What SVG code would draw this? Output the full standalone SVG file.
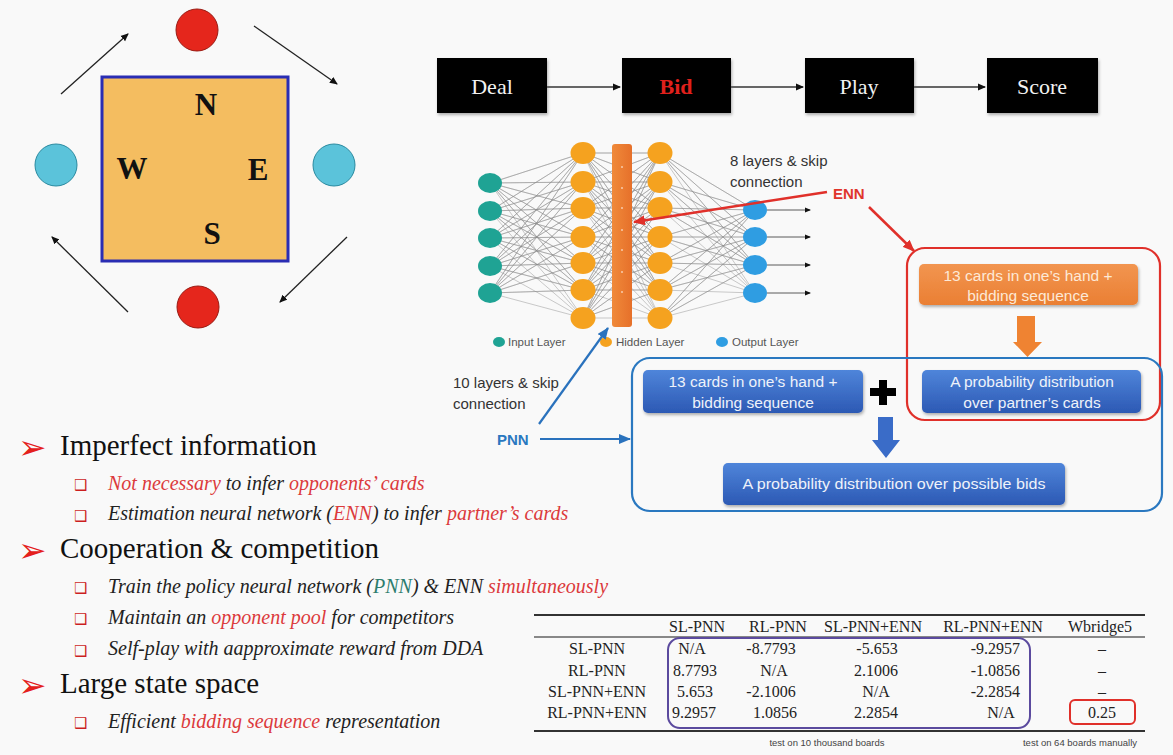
<svg xmlns="http://www.w3.org/2000/svg" width="1173" height="755" viewBox="0 0 1173 755">
<style>
.serif{font-family:"Liberation Serif","Times New Roman",serif}
.sans{font-family:"Liberation Sans",Arial,sans-serif}
.letter{font-family:"Liberation Serif",serif;font-weight:bold;font-size:31px;fill:#111;text-anchor:middle}
.flow{fill:#050505}
.flowtxt{font-family:"Liberation Serif",serif;font-size:22px;fill:#f2f2f2;text-anchor:middle}
.mesh{fill:none;stroke:#8a8a8a;stroke-width:0.6;opacity:0.75}
.inp{fill:#1fa394}
.hid{fill:#f5a21f}
.out{fill:#2f9de2}
.leg{font-family:"Liberation Sans",Arial,sans-serif;font-size:11.5px;fill:#555}
.note{font-family:"Liberation Sans",Arial,sans-serif;font-size:15px;fill:#333}
.btxt{font-family:"Liberation Sans",Arial,sans-serif;font-size:15.5px;fill:#eef2fa;text-anchor:middle}
.otxt{font-family:"Liberation Sans",Arial,sans-serif;font-size:15.5px;fill:#fde9d6;text-anchor:middle}
.h1{font-family:"Liberation Serif","Times New Roman",serif;font-size:29px;fill:#111}
.h2{font-family:"Liberation Serif","Times New Roman",serif;font-style:italic;font-size:20px;fill:#222}
.red{fill:#dc3a3c}
.arr{font-family:"DejaVu Sans",sans-serif;font-size:34px;fill:#e4201c}
.sq{font-family:"DejaVu Sans",sans-serif;font-size:15px;fill:#cc1f1f}
.tb{font-family:"Liberation Serif",serif;font-size:16px;fill:#222;text-anchor:middle}
.tbe{font-family:"Liberation Serif",serif;font-size:16px;fill:#222;text-anchor:end}
.fn{font-family:"Liberation Sans",Arial,sans-serif;font-size:9.5px;fill:#444;text-anchor:middle}
</style>
<defs>
<marker id="ak" markerWidth="8" markerHeight="8" refX="7" refY="4" orient="auto" markerUnits="userSpaceOnUse"><path d="M0,0.5 L8,4 L0,7.5 Z" fill="#111"/></marker>
<marker id="ar" markerWidth="12" markerHeight="10" refX="11" refY="5" orient="auto" markerUnits="userSpaceOnUse"><path d="M0,0 L12,5 L0,10 Z" fill="#e0302a"/></marker>
<marker id="ab" markerWidth="12" markerHeight="10" refX="11" refY="5" orient="auto" markerUnits="userSpaceOnUse"><path d="M0,0 L12,5 L0,10 Z" fill="#2a72bd"/></marker>
<marker id="as" markerWidth="6" markerHeight="6" refX="5" refY="3" orient="auto" markerUnits="userSpaceOnUse"><path d="M0,0.5 L6,3 L0,5.5 Z" fill="#111"/></marker>
<linearGradient id="gb" x1="0" y1="0" x2="0" y2="1"><stop offset="0" stop-color="#4f85da"/><stop offset="1" stop-color="#2c59b4"/></linearGradient>
<linearGradient id="go" x1="0" y1="0" x2="0" y2="1"><stop offset="0" stop-color="#f29550"/><stop offset="1" stop-color="#ea7f33"/></linearGradient>
<linearGradient id="gbar" x1="0" y1="0" x2="1" y2="0"><stop offset="0" stop-color="#f08a3a"/><stop offset="1" stop-color="#e6702a"/></linearGradient>
<filter id="sh" x="-10%" y="-20%" width="120%" height="150%"><feDropShadow dx="1" dy="2" stdDeviation="1.5" flood-color="#000" flood-opacity="0.3"/></filter>
</defs>
<rect x="0" y="0" width="1173" height="755" fill="#f9f9f9"/>

<!-- compass -->
<g id="table-square">
<rect x="102" y="77" width="186" height="184" fill="#f4bd60" stroke="#2a2db3" stroke-width="3"/>
<text class="letter" x="206" y="115">N</text>
<text class="letter" x="132" y="179">W</text>
<text class="letter" x="258" y="180">E</text>
<text class="letter" x="212" y="244">S</text>
</g>
<g id="player-north"><circle cx="197" cy="30" r="21" fill="#e5261c" stroke="#9a1a12" stroke-width="1"/></g>
<g id="player-south"><circle cx="198" cy="307" r="21" fill="#e5261c" stroke="#9a1a12" stroke-width="1"/></g>
<g id="player-west"><circle cx="56" cy="165" r="21" fill="#5bc3da" stroke="#2a8aa0" stroke-width="1"/></g>
<g id="player-east"><circle cx="334" cy="165" r="21" fill="#5bc3da" stroke="#2a8aa0" stroke-width="1"/></g>

<!-- flow -->
<g id="flow-deal"><rect class="flow" x="437" y="58" width="110" height="55" filter="url(#sh)"/><text class="flowtxt" x="492" y="94">Deal</text></g>
<g id="flow-bid"><rect class="flow" x="622" y="58" width="109" height="55" filter="url(#sh)"/><text class="flowtxt" x="676" y="94" style="fill:#e0201c;font-weight:bold">Bid</text></g>
<g id="flow-play"><rect class="flow" x="805" y="58" width="109" height="55" filter="url(#sh)"/><text class="flowtxt" x="859" y="94">Play</text></g>
<g id="flow-score"><rect class="flow" x="987" y="58" width="111" height="55" filter="url(#sh)"/><text class="flowtxt" x="1042" y="94">Score</text></g>

<!-- network -->
<g id="network">
<path class="mesh" d="M490 183L583 153 490 183 583 182 490 183 583 208 490 183 583 237 490 183 583 263 490 183 583 290 490 183 583 318
M490 211L583 153 490 211 583 182 490 211 583 208 490 211 583 237 490 211 583 263 490 211 583 290 490 211 583 318
M490 238L583 153 490 238 583 182 490 238 583 208 490 238 583 237 490 238 583 263 490 238 583 290 490 238 583 318
M490 266L583 153 490 266 583 182 490 266 583 208 490 266 583 237 490 266 583 263 490 266 583 290 490 266 583 318
M490 293L583 153 490 293 583 182 490 293 583 208 490 293 583 237 490 293 583 263 490 293 583 290 490 293 583 318"/>
<path class="mesh" d="M583 153L660 153 583 153 660 182 583 153 660 208 583 153 660 237 583 153 660 263 583 153 660 290 583 153 660 318
M583 182L660 153 583 182 660 182 583 182 660 208 583 182 660 237 583 182 660 263 583 182 660 290 583 182 660 318
M583 208L660 153 583 208 660 182 583 208 660 208 583 208 660 237 583 208 660 263 583 208 660 290 583 208 660 318
M583 237L660 153 583 237 660 182 583 237 660 208 583 237 660 237 583 237 660 263 583 237 660 290 583 237 660 318
M583 263L660 153 583 263 660 182 583 263 660 208 583 263 660 237 583 263 660 263 583 263 660 290 583 263 660 318
M583 290L660 153 583 290 660 182 583 290 660 208 583 290 660 237 583 290 660 263 583 290 660 290 583 290 660 318
M583 318L660 153 583 318 660 182 583 318 660 208 583 318 660 237 583 318 660 263 583 318 660 290 583 318 660 318"/>
<path class="mesh" d="M660 153L755 210 660 153 755 237 660 153 755 265 660 153 755 293
M660 182L755 210 660 182 755 237 660 182 755 265 660 182 755 293
M660 208L755 210 660 208 755 237 660 208 755 265 660 208 755 293
M660 237L755 210 660 237 755 237 660 237 755 265 660 237 755 293
M660 263L755 210 660 263 755 237 660 263 755 265 660 263 755 293
M660 290L755 210 660 290 755 237 660 290 755 265 660 290 755 293
M660 318L755 210 660 318 755 237 660 318 755 265 660 318 755 293"/>
<g fill="none" stroke="#333" stroke-width="0.8">
<line x1="767" y1="210" x2="810" y2="210" marker-end="url(#as)"/>
<line x1="767" y1="237" x2="810" y2="237" marker-end="url(#as)"/>
<line x1="767" y1="265" x2="810" y2="265" marker-end="url(#as)"/>
<line x1="767" y1="293" x2="810" y2="293" marker-end="url(#as)"/>
</g>
<ellipse class="inp" cx="490" cy="183" rx="12" ry="10"/>
<ellipse class="inp" cx="490" cy="211" rx="12" ry="10"/>
<ellipse class="inp" cx="490" cy="238" rx="12" ry="10"/>
<ellipse class="inp" cx="490" cy="266" rx="12" ry="10"/>
<ellipse class="inp" cx="490" cy="293" rx="12" ry="10"/>
<ellipse class="hid" cx="583" cy="153" rx="12.5" ry="11"/>
<ellipse class="hid" cx="583" cy="182" rx="12.5" ry="11"/>
<ellipse class="hid" cx="583" cy="208" rx="12.5" ry="11"/>
<ellipse class="hid" cx="583" cy="237" rx="12.5" ry="11"/>
<ellipse class="hid" cx="583" cy="263" rx="12.5" ry="11"/>
<ellipse class="hid" cx="583" cy="290" rx="12.5" ry="11"/>
<ellipse class="hid" cx="583" cy="318" rx="12.5" ry="11"/>
<ellipse class="hid" cx="660" cy="153" rx="12.5" ry="11"/>
<ellipse class="hid" cx="660" cy="182" rx="12.5" ry="11"/>
<ellipse class="hid" cx="660" cy="208" rx="12.5" ry="11"/>
<ellipse class="hid" cx="660" cy="237" rx="12.5" ry="11"/>
<ellipse class="hid" cx="660" cy="263" rx="12.5" ry="11"/>
<ellipse class="hid" cx="660" cy="290" rx="12.5" ry="11"/>
<ellipse class="hid" cx="660" cy="318" rx="12.5" ry="11"/>
<rect x="612" y="144" width="20" height="183" rx="3" fill="url(#gbar)"/>
<g fill="#fff" opacity="0.6"><circle cx="622" cy="167" r="1"/><circle cx="622" cy="188" r="1"/><circle cx="622" cy="208" r="1"/><circle cx="622" cy="230" r="1"/><circle cx="622" cy="250" r="1"/><circle cx="622" cy="272" r="1"/><circle cx="622" cy="292" r="1"/></g>
<ellipse class="out" cx="755" cy="210" rx="12" ry="10"/>
<ellipse class="out" cx="755" cy="237" rx="12" ry="10"/>
<ellipse class="out" cx="755" cy="265" rx="12" ry="10"/>
<ellipse class="out" cx="755" cy="293" rx="12" ry="10"/>
<ellipse class="inp" cx="499" cy="342" rx="6" ry="5"/><text class="leg" x="508" y="346">Input Layer</text>
<ellipse class="hid" cx="606" cy="342" rx="6" ry="5"/><text class="leg" x="616" y="346">Hidden Layer</text>
<ellipse class="out" cx="722" cy="342" rx="6" ry="5"/><text class="leg" x="732" y="346">Output Layer</text>
</g>

<g id="label-enn">
<text class="note" x="730" y="166">8 layers &amp; skip</text>
<text class="note" x="730" y="187">connection</text>
<text class="sans" x="833" y="199" font-size="15" font-weight="bold" fill="#e0352b">ENN</text>
</g>
<g id="label-pnn">
<text class="note" x="453" y="388">10 layers &amp; skip</text>
<text class="note" x="453" y="409">connection</text>
<text class="sans" x="497" y="445" font-size="15" font-weight="bold" fill="#2a78c0">PNN</text>
</g>

<!-- ENN / PNN panels -->
<g id="enn-group">
<rect x="907" y="248" width="253" height="172" rx="18" fill="none" stroke="#e0302a" stroke-width="2.2"/>
</g>
<g id="pnn-group">
<rect x="632" y="358" width="530" height="153" rx="18" fill="none" stroke="#2a78c0" stroke-width="2.2"/>
</g>
<g id="enn-input">
<rect x="919" y="264" width="219" height="41" rx="5" fill="url(#go)" filter="url(#sh)"/>
<text class="otxt" x="1028" y="281">13 cards in one’s hand +</text>
<text class="otxt" x="1028" y="301">bidding sequence</text>
</g>
<g id="enn-output">
<rect x="922" y="370" width="219" height="43" rx="5" fill="url(#gb)" filter="url(#sh)"/>
<text class="btxt" x="1032" y="387">A probability distribution</text>
<text class="btxt" x="1032" y="408">over partner’s cards</text>
</g>
<g id="pnn-input">
<rect x="643" y="370" width="220" height="43" rx="5" fill="url(#gb)" filter="url(#sh)"/>
<text class="btxt" x="753" y="387">13 cards in one’s hand +</text>
<text class="btxt" x="753" y="408">bidding sequence</text>
</g>
<g id="plus"><path d="M879 380h8v8h9v8h-9v9h-8v-9h-9v-8h9z" fill="#000"/></g>
<g id="pnn-output">
<rect x="723" y="463" width="342" height="42" rx="5" fill="url(#gb)" filter="url(#sh)"/>
<text class="btxt" x="894" y="489" textLength="303" lengthAdjust="spacingAndGlyphs">A probability distribution over possible bids</text>
</g>

<!-- connectors -->
<g id="connectors">
<g stroke="#666" stroke-width="2" fill="none">
<line x1="547" y1="87" x2="620" y2="87" marker-end="url(#ak)"/>
<line x1="731" y1="87" x2="803" y2="87" marker-end="url(#ak)"/>
<line x1="914" y1="87" x2="985" y2="87" marker-end="url(#ak)"/>
</g>
<g stroke="#222" stroke-width="1.3" fill="none">
<line x1="61" y1="94" x2="128" y2="34" marker-end="url(#ak)"/>
<line x1="254" y1="26" x2="337" y2="84" marker-end="url(#ak)"/>
<line x1="347" y1="237" x2="280" y2="302" marker-end="url(#ak)"/>
<line x1="128" y1="312" x2="52" y2="237" marker-end="url(#ak)"/>
</g>
<line x1="827" y1="192" x2="634" y2="222" stroke="#e0302a" stroke-width="2.5" marker-end="url(#ar)"/>
<line x1="869" y1="207" x2="914" y2="251" stroke="#e0302a" stroke-width="2.5" marker-end="url(#ar)"/>
<line x1="539" y1="424" x2="608" y2="328" stroke="#2a72bd" stroke-width="2.2" marker-end="url(#ab)"/>
<line x1="540" y1="439" x2="630" y2="439" stroke="#2a72bd" stroke-width="2.2" marker-end="url(#ab)"/>
<path d="M1017 316h18v26h7l-14.5 15-14.5-15h4z" fill="#ef8332"/>
<path d="M878 417h15v23h7l-14 18-14-18h6z" fill="#3a6cc8"/>
</g>

<!-- bullets -->
<g id="bullets">
<text class="arr" x="18" y="459">➢</text>
<text class="h1" x="60" y="455">Imperfect information</text>
<text class="sq" x="74" y="490">❑</text>
<text class="h2" x="108" y="490"><tspan class="red">Not necessary</tspan> to infer <tspan class="red">opponents’ cards</tspan></text>
<text class="sq" x="74" y="521">❑</text>
<text class="h2" x="108" y="520">Estimation neural network (<tspan class="red">ENN</tspan>) to infer <tspan class="red">partner’s cards</tspan></text>
<text class="arr" x="18" y="562">➢</text>
<text class="h1" x="60" y="558">Cooperation &amp; competition</text>
<text class="sq" x="74" y="593">❑</text>
<text class="h2" x="108" y="593">Train the policy neural network (<tspan fill="#2e7d6e">PNN</tspan>) &amp; ENN <tspan class="red">simultaneously</tspan></text>
<text class="sq" x="74" y="624">❑</text>
<text class="h2" x="108" y="624">Maintain an <tspan class="red">opponent pool</tspan> for competitors</text>
<text class="sq" x="74" y="656">❑</text>
<text class="h2" x="108" y="655">Self-play with aapproximate reward from DDA</text>
<text class="arr" x="18" y="697">➢</text>
<text class="h1" x="60" y="693">Large state space</text>
<text class="sq" x="74" y="728">❑</text>
<text class="h2" x="108" y="728">Efficient <tspan class="red">bidding sequence</tspan> representation</text>
</g>

<!-- table -->
<g id="results-table">
<line x1="534" y1="615" x2="1145" y2="615" stroke="#333" stroke-width="2"/>
<line x1="534" y1="637" x2="1145" y2="637" stroke="#888" stroke-width="2"/>
<line x1="534" y1="731" x2="1145" y2="731" stroke="#333" stroke-width="2"/>
<text class="tb" x="697" y="632">SL-PNN</text>
<text class="tb" x="778" y="632">RL-PNN</text>
<text class="tb" x="873" y="632">SL-PNN+ENN</text>
<text class="tb" x="993" y="632">RL-PNN+ENN</text>
<text class="tb" x="1100" y="632">Wbridge5</text>
<text class="tb" x="597" y="654">SL-PNN</text>
<text class="tb" x="597" y="676">RL-PNN</text>
<text class="tb" x="597" y="697">SL-PNN+ENN</text>
<text class="tb" x="597" y="718">RL-PNN+ENN</text>
<text class="tb" x="692" y="654">N/A</text>
<text class="tb" x="695" y="676">8.7793</text>
<text class="tb" x="695" y="697">5.653</text>
<text class="tb" x="694" y="718">9.2957</text>
<text class="tb" x="771" y="654">-8.7793</text>
<text class="tb" x="774" y="676">N/A</text>
<text class="tb" x="771" y="697">-2.1006</text>
<text class="tb" x="775" y="718">1.0856</text>
<text class="tb" x="877" y="654">-5.653</text>
<text class="tb" x="876" y="676">2.1006</text>
<text class="tb" x="876" y="697">N/A</text>
<text class="tb" x="876" y="718">2.2854</text>
<text class="tbe" x="1020" y="654">-9.2957</text>
<text class="tbe" x="1020" y="676">-1.0856</text>
<text class="tbe" x="1020" y="697">-2.2854</text>
<text class="tb" x="1001" y="718">N/A</text>
<text class="tb" x="1102" y="654">–</text>
<text class="tb" x="1102" y="676">–</text>
<text class="tb" x="1102" y="697">–</text>
<text class="tb" x="1102" y="718">0.25</text>
<rect x="668" y="638" width="362" height="90" rx="12" fill="none" stroke="#5b4a9e" stroke-width="2"/>
<rect x="1070" y="700" width="65" height="24" rx="5" fill="none" stroke="#e0302a" stroke-width="2"/>
<text class="fn" x="827" y="746">test on 10 thousand boards</text>
<text class="fn" x="1080" y="746">test on 64 boards manually</text>
</g>
</svg>
